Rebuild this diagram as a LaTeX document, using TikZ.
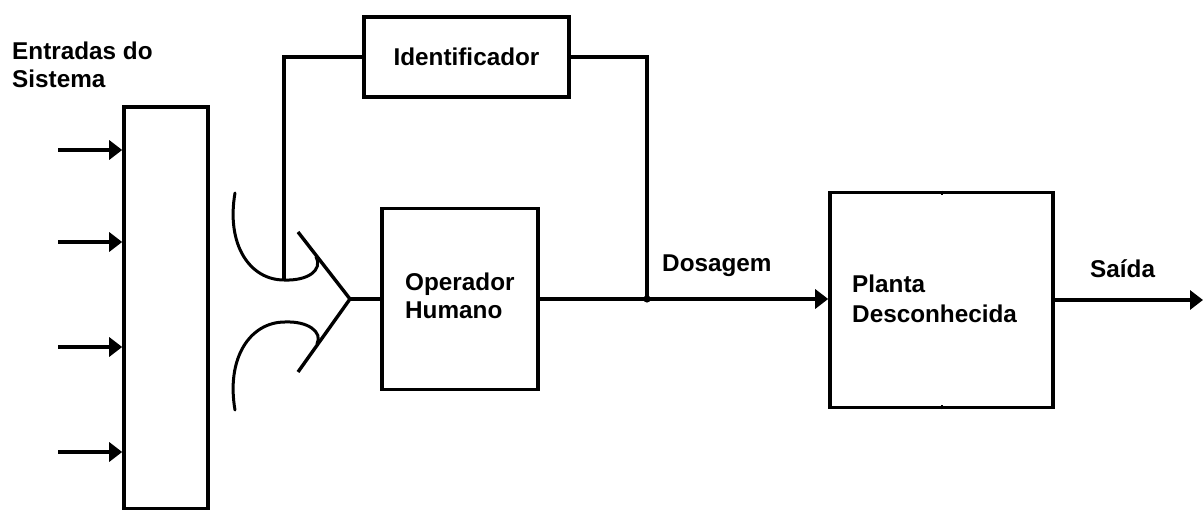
\documentclass[tikz,border=0pt]{standalone}
\usepackage{fontspec}
\setmainfont{Liberation Sans}
\usetikzlibrary{arrows.meta}
\begin{document}
\begin{tikzpicture}[x=1pt,y=-1pt,
  box/.style={draw, line width=3.6pt, inner sep=0pt},
  txt/.style={font=\bfseries\fontsize{24.3}{29}\selectfont},
  lbl/.style={txt, inner sep=0pt, anchor=base west},
  wire/.style={line width=3.4pt},
  sig/.style={line width=4pt, -{Triangle[length=13pt,width=19pt]}},
  cup/.style={line width=3pt, line cap=round}]
\useasboundingbox (0,0) rectangle (1203,510);

% blocks
\node[box, minimum width=84pt, minimum height=402pt] (inputs) at (166,308) {};
\node[box, txt, minimum width=205pt, minimum height=80pt] (ident) at (466.5,57) {Identificador};
\node[box, minimum width=156pt, minimum height=181pt] (oper) at (460,299) {};
\node[box, minimum width=223pt, minimum height=215pt] (plant) at (941.5,300) {};

% labels
\node[lbl] (title1) at (12,60) {Entradas do};
\node[lbl] (title2) at (12,88) {Sistema};
\node[lbl] (oper1) at (405,291) {Operador};
\node[lbl] (oper2) at (405,319) {Humano};
\node[lbl] (plant1) at (852,293) {Planta};
\node[lbl] (plant2) at (852,323) {Desconhecida};
\node[lbl] (dose) at (662,272) {Dosagem};
\node[lbl] (out) at (1090,278) {Saída};

% system inputs
\coordinate (i1) at (58,150);
\coordinate (i2) at (58,242);
\coordinate (i3) at (58,347);
\coordinate (i4) at (58,452);
\foreach \c in {i1,i2,i3,i4}
  \draw[sig] (\c) -- (\c -| inputs.west);

% funnel into the operator
\coordinate (apex) at (350,299);
\coordinate (tap) at (284,280);
\coordinate (fu) at (298,232);
\coordinate (fl) at (298,372);
\draw[wire] (fu) -- (apex) -- (fl);
\draw[wire] (apex) -- (oper.west);
\draw[cup] (235,193) .. controls (226,245) and (250,280) .. (tap)
  .. controls (308,281) and (323,270) .. (316,257);
\draw[cup] (235,410) .. controls (226,358) and (250,322) .. (285,322)
  .. controls (308,321) and (323,332) .. (317,344);

% identifier loop
\coordinate (junc) at (647,299);
\draw[wire] (ident.west) -| (tap);
\draw[wire] (ident.east) -| (junc);
\fill (junc) circle (3.6pt);

% signal path
\draw[wire] (oper.east) -- (junc);
\draw[sig] (junc) -- (junc -| plant.west);
\coordinate (outEnd) at (1203,300);
\draw[sig] (plant.east) -- (outEnd);

% small marks on the plant box
\draw[line width=2pt] (plant.north) -- ++(0,4);
\draw[line width=2pt] (plant.south) -- ++(0,-4);
\end{tikzpicture}
\end{document}
